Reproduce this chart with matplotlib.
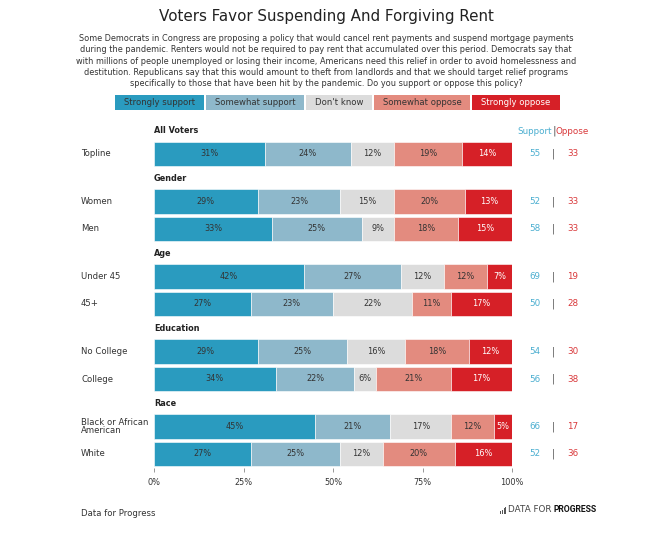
import matplotlib
matplotlib.use("Agg")
import matplotlib.pyplot as plt
from matplotlib.patches import Rectangle

plt.rcParams['font.family'] = ['DejaVu Sans']

categories = ["Strongly support", "Somewhat support", "Don't know", "Somewhat oppose", "Strongly oppose"]
colors = ["#2A9BBF", "#8EB8CB", "#DCDCDC", "#E38B7F", "#D62027"]
text_colors = ["#333333", "#333333", "#333333", "#333333", "#FFFFFF"]

groups = ["All Voters", "Gender", "Age", "Education", "Race"]
group_rows = [
    ["Topline"],
    ["Women", "Men"],
    ["Under 45", "45+"],
    ["No College", "College"],
    ["Black or African\nAmerican", "White"],
]
values = {
    "Topline": [31, 24, 12, 19, 14],
    "Women": [29, 23, 15, 20, 13],
    "Men": [33, 25, 9, 18, 15],
    "Under 45": [42, 27, 12, 12, 7],
    "45+": [27, 23, 22, 11, 17],
    "No College": [29, 25, 16, 18, 12],
    "College": [34, 22, 6, 21, 17],
    "Black or African\nAmerican": [45, 21, 17, 12, 5],
    "White": [27, 25, 12, 20, 16],
}
support = {"Topline": 55, "Women": 52, "Men": 58, "Under 45": 69, "45+": 50,
           "No College": 54, "College": 56, "Black or African\nAmerican": 66, "White": 52}
oppose = {"Topline": 33, "Women": 33, "Men": 33, "Under 45": 19, "45+": 28,
          "No College": 30, "College": 38, "Black or African\nAmerican": 17, "White": 36}
xticks = [0, 25, 50, 75, 100]
xticklabels = ["0%", "25%", "50%", "75%", "100%"]

title = "Voters Favor Suspending And Forgiving Rent"
subtitle = ("Some Democrats in Congress are proposing a policy that would cancel rent payments and suspend mortgage payments\n"
            "during the pandemic. Renters would not be required to pay rent that accumulated over this period. Democrats say that\n"
            "with millions of people unemployed or losing their income, Americans need this relief in order to avoid homelessness and\n"
            "destitution. Republicans say that this would amount to theft from landlords and that we should target relief programs\n"
            "specifically to those that have been hit by the pandemic. Do you support or oppose this policy?")

W, H = 652, 537
fig = plt.figure(figsize=(W / 100, H / 100), dpi=100)
fig.patch.set_facecolor("white")

def fx(px):
    return px / W

def fy(py):
    return 1 - py / H

top_px, bot_px = 125, 468
left_px, right_px = 154, 512
ax = fig.add_axes([fx(left_px), fy(bot_px), fx(right_px) - fx(left_px), (bot_px - top_px) / H])
ax.set_xlim(0, 100)
ax.set_ylim(bot_px, top_px)

pitch = 27.5
group_gap = 20
bar_h = 24.5
y = 154
sup_col = "#4AAED0"
opp_col = "#D9383A"
for g, rows in zip(groups, group_rows):
    ax.text(0, y - 23, g, fontsize=5.9, fontweight="bold", color="#222222",
            ha="left", va="center", clip_on=False)
    for r in rows:
        vals = values[r]
        left = 0
        tot = sum(vals)
        for v, c, tc in zip(vals, colors, text_colors):
            w = v / tot * 100
            ax.barh(y, w, left=left, height=bar_h, color=c, edgecolor="white", linewidth=0.4)
            ax.text(left + w / 2, y, f"{v}%", ha="center", va="center", fontsize=5.9, color=tc)
            left += w
        fig.text(fx(81), fy(y), r, ha="left", va="center", fontsize=6.1, color="#333333", linespacing=0.95)
        fig.text(fx(535), fy(y), str(support[r]), ha="center", va="center", fontsize=6.3, color=sup_col)
        fig.text(fx(553), fy(y), "|", ha="center", va="center", fontsize=7, color="#555555")
        fig.text(fx(573), fy(y), str(oppose[r]), ha="center", va="center", fontsize=6.3, color=opp_col)
        y += pitch
    y += group_gap

fig.text(fx(552), fy(131), "Support", ha="right", va="center", fontsize=6.3, color=sup_col)
fig.text(fx(554), fy(131), "|", ha="center", va="center", fontsize=7.5, color="#555555")
fig.text(fx(556), fy(131), "Oppose", ha="left", va="center", fontsize=6.3, color=opp_col)

for s in ax.spines.values():
    s.set_visible(False)
ax.set_yticks([])
ax.set_xticks(xticks)
ax.set_xticklabels(xticklabels, fontsize=5.9, color="#333333")
ax.tick_params(axis="x", length=3, color="#888888", pad=4, width=0.6)

fig.text(0.5, fy(17), title, ha="center", va="center", fontsize=10.9, color="#222222")
fig.text(0.5, fy(61), subtitle, ha="center", va="center", fontsize=5.85, color="#333333", linespacing=1.33)

leg_x = [115, 206, 306, 374, 472, 560]
for i, (cat, c, tc) in enumerate(zip(categories, colors, text_colors)):
    x0, x1 = leg_x[i], leg_x[i + 1] - 2 if i < 4 else leg_x[i + 1]
    fig.patches.append(Rectangle((fx(x0), fy(110)), fx(x1) - fx(x0), (110 - 95) / H,
                                 transform=fig.transFigure, facecolor=c, edgecolor="none"))
    fig.text(fx((x0 + x1) / 2), fy(102.5), cat, ha="center", va="center", fontsize=6.1, color=tc)

fig.text(fx(81), fy(513), "Data for Progress", ha="left", va="center", fontsize=6.1, color="#333333")
fig.text(fx(552), fy(510), "DATA FOR", ha="right", va="center", fontsize=6.3, color="#444444")
fig.text(fx(554), fy(510), "PROGRESS", ha="left", va="center", fontsize=6.2, color="#111111",
         fontweight="bold", family=["Roboto", "DejaVu Sans"])
for i, hh in enumerate([3, 4, 6, 7]):
    fig.patches.append(Rectangle((fx(500.5 + i * 1.6), fy(513.5)), 1.0 / W, hh / H,
                                 transform=fig.transFigure, facecolor="#555555", edgecolor="none"))

fig.savefig("out.png", dpi=100, facecolor="white")
